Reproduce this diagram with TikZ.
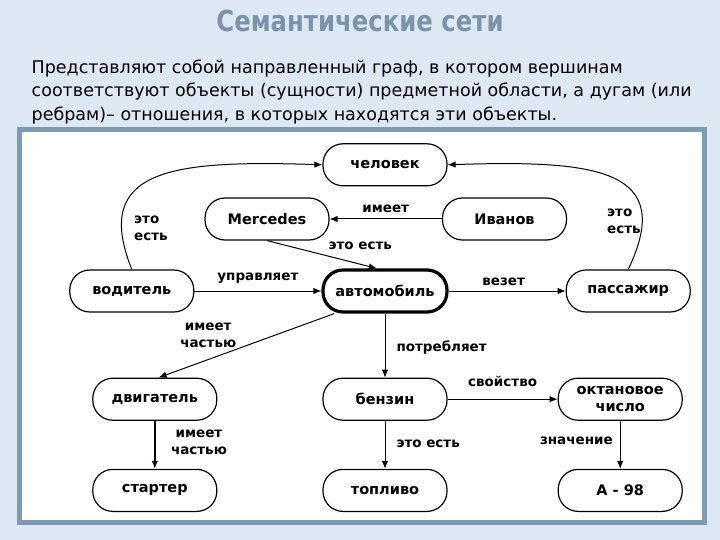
\documentclass[tikz,border=0pt]{standalone}
\usepackage{fontspec}
\setmainfont{DejaVu Sans}
\newfontfamily\titlefont[FakeStretch=0.84]{DejaVu Sans}
\usetikzlibrary{arrows.meta}
\usetikzlibrary{positioning}

\definecolor{slidebg}{HTML}{DEE8F3}
\definecolor{framecol}{HTML}{7F9BB3}
\definecolor{titlecol}{HTML}{7A94AB}

\newcommand{\conceptfont}{\bfseries\fontsize{14.5}{17}\selectfont}
\newcommand{\relfont}{\bfseries\fontsize{13.5}{17}\selectfont}

\begin{document}
\begin{tikzpicture}[x=1pt, y=-1pt, >={Latex[length=8pt,width=6.5pt]},
    concept/.style={draw, rounded corners=20pt, minimum width=124pt, minimum height=42pt,
                    line width=1.2pt, inner sep=1pt, align=center, font=\conceptfont},
    rel/.style={inner sep=1pt, align=center, font=\relfont},
    link/.style={->, line width=1pt}]
        \useasboundingbox (0,0) rectangle (720,540);
        \fill[slidebg] (0,0) rectangle (720,540);
        \node[text=titlecol, font=\titlefont\bfseries\fontsize{29}{34}\selectfont] (title) at (360,20.5) {Семантические сети};
        \node[anchor=north west, inner sep=0pt, align=left, font=\fontsize{17.5}{23.5}\selectfont] (intro) at (31.5,59.5)
            {Представляют собой направленный граф, в котором вершинам\\
             соответствуют объекты (сущности) предметной области, а дугам (или\\
             ребрам)-- отношения, в которых находятся эти объекты.};
        \draw[line width=5pt, draw=framecol, fill=white] (19.5,129.5) rectangle (704.5,522.5);

        \node[concept, line width=3.2pt] (avto) at (385,291) {автомобиль};
        \node[concept, left=127pt of avto] (vod) {водитель};
        \node[concept, right=117pt of avto] (pass) {пассажир};
        \node[concept, above=82pt of avto] (chel) {человек};
        \node[concept] (merc) at (267,219) {Mercedes};
        \node[concept] (ivan) at (504.5,219) {Иванов};
        \node[concept, below=64pt of avto] (benz) {бензин};
        \node[concept, left=105pt of benz] (dvig) {двигатель};
        \node[concept, right=110pt of benz] (okt) {октановое\\число};
        \node[concept, below=48pt of benz] (topl) {топливо};
        \node[concept, below=48pt of dvig] (start) {стартер};
        \node[concept, below=48pt of okt] (a98) {А - 98};

        \draw[link] (vod.north) .. controls +(-40,-100) and +(-152,-5) .. (chel.west);
        \draw[link] (pass.north) .. controls +(48,-100) and +(150,-5) .. (chel.east);
        \node[rel, align=left, anchor=west] (isa1) at (133,228) {это\\есть};
        \node[rel, align=left, anchor=west] (isa2) at (606,221) {это\\есть};

        \draw[link] (ivan) -- node[rel, above=5pt] {имеет} (merc);
        \draw[link] (merc.south) -- node[rel, pos=0.85, above=13pt] {это есть} (avto.110);
        \draw[link] (vod) -- node[rel, above=6pt] {управляет} (avto);
        \draw[link] (avto) -- node[rel, pos=0.47, above=4pt] {везет} (pass);
        \draw[link] (avto.204) -- node[rel, pos=0.55, anchor=south east] {имеет\\частью} (dvig.80);
        \draw[link] (avto) -- node[rel, right=10pt, yshift=-2.4pt] {потребляет} (benz);
        \draw[link] (benz) -- node[rel, above=11pt] {свойство} (okt);
        \draw[link] (benz) -- node[rel, right=10pt, yshift=1pt] {это есть} (topl);
        \draw[link] (okt) -- node[rel, left=6pt, yshift=4pt] {значение} (a98);
        \draw[link, line width=2.4pt] (dvig) -- node[rel, right=14pt, yshift=2pt] {имеет\\частью} (start);
\end{tikzpicture}
\end{document}
